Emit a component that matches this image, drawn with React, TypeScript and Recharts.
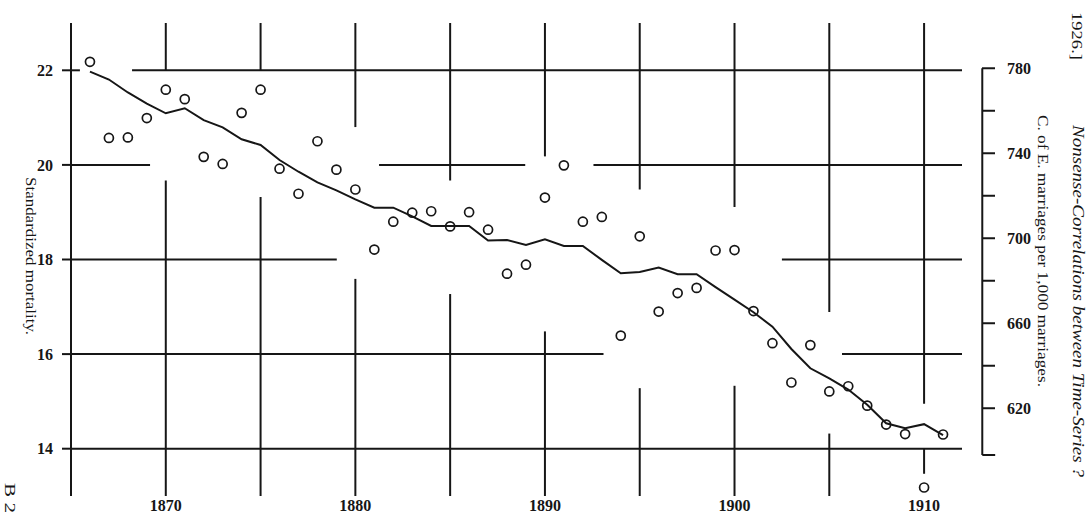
import React from 'react';
import { ComposedChart, Line, XAxis, YAxis, ReferenceLine } from 'recharts';

// Yule (1926), fig. 1: standardized mortality (circles, left scale) and
// C. of E. marriages per 1,000 marriages (line, right scale), 1866-1911.
const years = [
  1866, 1867, 1868, 1869, 1870, 1871, 1872, 1873, 1874, 1875,
  1876, 1877, 1878, 1879, 1880, 1881, 1882, 1883, 1884, 1885,
  1886, 1887, 1888, 1889, 1890, 1891, 1892, 1893, 1894, 1895,
  1896, 1897, 1898, 1899, 1900, 1901, 1902, 1903, 1904, 1905,
  1906, 1907, 1908, 1909, 1910, 1911,
];

const mortality = [
  22.18, 20.57, 20.58, 20.99, 21.59, 21.39, 20.17, 20.02, 21.1, 21.59,
  19.92, 19.39, 20.5, 19.9, 19.48, 18.21, 18.8, 18.99, 19.02, 18.7,
  19.0, 18.63, 17.7, 17.89, 19.31, 19.99, 18.8, 18.9, 16.39, 18.49,
  16.9, 17.29, 17.4, 18.19, 18.2, 16.91, 16.23, 15.4, 16.19, 15.21,
  15.32, 14.91, 14.51, 14.31, 13.18, 14.3,
];

const marriages = [
  778.4, 774.7, 768.6, 763.4, 758.8, 761.2, 755.6, 752.2, 746.6, 743.9,
  736.8, 731.3, 726.3, 722.5, 718.3, 714.4, 714.4, 710.3, 705.8, 705.8,
  705.8, 698.9, 699.2, 696.8, 699.5, 696.4, 696.4, 689.8, 683.5, 684.1,
  686.2, 683.1, 683.1, 677.0, 671.1, 665.2, 658.4, 647.9, 638.8, 634.0,
  628.8, 621.6, 612.9, 610.6, 612.5, 607.4,
];

const yearTicks = [1870, 1880, 1890, 1900, 1910];
const leftTicks = [14, 16, 18, 20, 22];
const rightTicks = [620, 640, 660, 680, 700, 720, 740, 760, 780];
const rightLabels = [620, 660, 700, 740, 780];

const X_DOMAIN = [1865, 1912];
const LEFT_DOMAIN = [13, 23];
const RIGHT_DOMAIN = [578.7, 801.3];

// the ruled grid is broken where the points pass: [value, from year, to year]
const hRules = [
  [22, 1865, 1865.47], [22, 1868.22, 1912],
  [20, 1865, 1869.17], [20, 1881.25, 1888.96], [20, 1892.56, 1912],
  [18, 1865, 1879.02], [18, 1902.5, 1912],
  [16, 1865, 1893.09], [16, 1905.67, 1912],
  [14, 1865, 1912],
];
// [year, from value, to value]
const vRules = [
  [1870, 22, 23], [1870, 13, 19.67],
  [1875, 22, 23], [1875, 13, 19.32],
  [1880, 20.8, 23], [1880, 13, 17.59],
  [1885, 19.67, 23], [1885, 13, 17.27],
  [1890, 20.18, 23], [1890, 13, 16.48],
  [1895, 19.48, 23], [1895, 13, 15.28],
  [1900, 19.11, 23], [1900, 13, 15.33],
  [1905, 16.89, 23], [1905, 13, 14.32],
  [1910, 14.95, 23], [1910, 13.47, 14],
];
// right-hand scale drawn as a bracket
const BRACKET_YEAR = 1913.07;
const BRACKET_CAP_YEAR = 1913.75;
const BRACKET_BOTTOM = 598;
const BRACKET_TOP = 780;

const data = years.map((year, i) => ({
  year,
  mortality: mortality[i],
  marriages: marriages[i],
}));

const INK = '#161616';
const SERIF = '"Liberation Serif", "DejaVu Serif", serif';
const numStyle = { fill: INK, fontSize: 16, fontFamily: SERIF, fontWeight: 700 };

function RightTick(props: any) {
  const { x, y, payload } = props;
  const v = payload.value;
  return (
    <g>
      <line x1={x + 20} x2={x + 33} y1={y} y2={y} stroke={INK} strokeWidth={2} />
      {rightLabels.includes(v) && (
        <text x={x + 45} y={y} dy="0.35em" textAnchor="start" {...numStyle}>
          {v}
        </text>
      )}
    </g>
  );
}

function Rotated({ x, y, len, size, italic, children }: any) {
  return (
    <text
      transform={`translate(${x},${y}) rotate(90)`}
      textAnchor="middle"
      dominantBaseline="central"
      fontFamily={SERIF}
      fontSize={size}
      fontStyle={italic ? 'italic' : 'normal'}
      fill={INK}
      textLength={len}
      lengthAdjust="spacingAndGlyphs"
    >
      {children}
    </text>
  );
}

export default function App() {
  return (
    <div style={{ position: 'absolute', left: 0, top: 0, width: 1086, height: 514, background: '#fff' }}>
      <ComposedChart
        width={1086}
        height={514}
        data={data}
        margin={{ top: 23, right: 0, bottom: 0, left: 0 }}
      >
        <XAxis
          dataKey="year"
          type="number"
          domain={X_DOMAIN}
          ticks={yearTicks}
          interval={0}
          axisLine={false}
          tickLine={false}
          tickSize={0}
          tickMargin={4}
          height={18}
          tick={numStyle}
        />
        <YAxis
          yAxisId="l"
          type="number"
          domain={LEFT_DOMAIN}
          ticks={leftTicks}
          interval={0}
          width={71}
          axisLine={{ stroke: INK, strokeWidth: 2 }}
          tickLine={{ stroke: INK, strokeWidth: 2 }}
          tickSize={9}
          tickMargin={9}
          tick={numStyle}
        />
        <YAxis
          yAxisId="r"
          orientation="right"
          type="number"
          domain={RIGHT_DOMAIN}
          allowDataOverflow
          ticks={rightTicks}
          interval={0}
          width={124}
          axisLine={false}
          tickLine={false}
          tickSize={0}
          tickMargin={0}
          tick={<RightTick />}
        />
        {hRules.map(([v, a, b], i) => (
          <ReferenceLine
            key={'h' + i}
            yAxisId="l"
            segment={[{ x: a, y: v }, { x: b, y: v }]}
            stroke={INK}
            strokeWidth={2}
            ifOverflow="visible"
          />
        ))}
        {vRules.map(([yr, a, b], i) => (
          <ReferenceLine
            key={'v' + i}
            yAxisId="l"
            segment={[{ x: yr, y: a }, { x: yr, y: b }]}
            stroke={INK}
            strokeWidth={2}
            ifOverflow="visible"
          />
        ))}
        <ReferenceLine
          yAxisId="r"
          segment={[{ x: BRACKET_YEAR, y: BRACKET_BOTTOM }, { x: BRACKET_YEAR, y: BRACKET_TOP }]}
          stroke={INK}
          strokeWidth={2}
          ifOverflow="visible"
        />
        <ReferenceLine
          yAxisId="r"
          segment={[{ x: BRACKET_YEAR, y: BRACKET_BOTTOM }, { x: BRACKET_CAP_YEAR, y: BRACKET_BOTTOM }]}
          stroke={INK}
          strokeWidth={2}
          ifOverflow="visible"
        />
        <Line
          yAxisId="r"
          dataKey="marriages"
          type="linear"
          stroke={INK}
          strokeWidth={2}
          dot={false}
          activeDot={false}
          isAnimationActive={false}
        />
        <Line
          yAxisId="l"
          dataKey="mortality"
          type="linear"
          stroke="none"
          dot={{ r: 4.5, fill: 'none', stroke: INK, strokeWidth: 1.7 }}
          activeDot={false}
          isAnimationActive={false}
        />
      </ComposedChart>
      <svg
        width={1086}
        height={514}
        style={{ position: 'absolute', left: 0, top: 0, pointerEvents: 'none' }}
      >
        <Rotated x={31} y={256} len={158} size={15}>Standardized mortality.</Rotated>
        <Rotated x={1043} y={251} len={272} size={15}>C. of E. marriages per 1,000 marriages.</Rotated>
        <Rotated x={1077} y={36} len={48} size={15}>1926.]</Rotated>
        <Rotated x={1078} y={301} len={352} size={16} italic>
          Nonsense-Correlations between Time-Series ?
        </Rotated>
        <Rotated x={9} y={498} len={30} size={14}>B 2</Rotated>
      </svg>
    </div>
  );
}
